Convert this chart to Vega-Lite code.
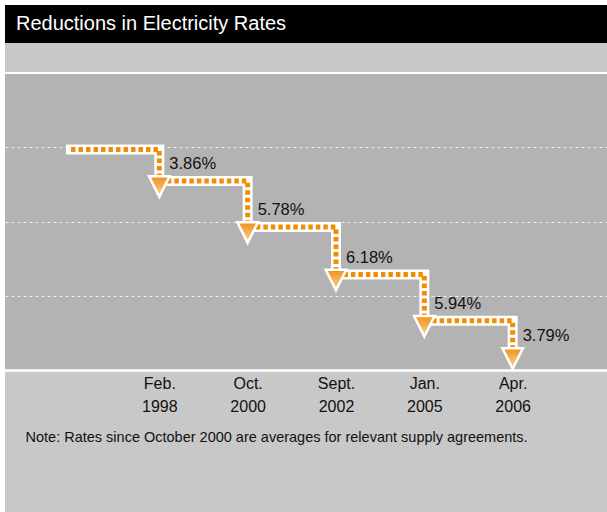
{
  "$schema": "https://vega.github.io/schema/vega-lite/v6.json",
  "background": "white",
  "padding": {"left": 4, "top": 5, "right": 0, "bottom": 0},
  "spacing": 0,
  "bounds": "flush",
  "config": {
    "view": {"stroke": null},
    "font": "Liberation Sans, Arial, sans-serif"
  },
  "vconcat": [
    {
      "width": 603,
      "height": 38,
      "view": {"fill": "black", "stroke": null},
      "data": {"values": [{"heading": "Reductions in Electricity Rates"}]},
      "mark": {
        "type": "text",
        "align": "left",
        "baseline": "middle",
        "dx": 11,
        "fontSize": 20,
        "color": "white"
      },
      "encoding": {
        "x": {"datum": 0, "type": "quantitative", "scale": {"domain": [0, 1]}, "axis": null},
        "text": {"field": "heading"}
      }
    },
    {
      "width": 603,
      "height": 469,
      "view": {"fill": "#b3b3b3", "stroke": null},
      "data": {
        "values": [
          {"period": "Start", "level": 29.7, "reduction": null},
          {"period": "Feb. 1998", "level": 25.45, "reduction": "3.86%"},
          {"period": "Oct. 2000", "level": 19.27, "reduction": "5.78%"},
          {"period": "Sept. 2002", "level": 12.9, "reduction": "6.18%"},
          {"period": "Jan. 2005", "level": 6.68, "reduction": "5.94%"},
          {"period": "Apr. 2006", "level": 2.36, "reduction": "3.79%"}
        ]
      },
      "encoding": {
        "x": {
          "field": "period",
          "type": "ordinal",
          "sort": null,
          "scale": {
            "type": "point",
            "domain": ["Start", "Feb. 1998", "Oct. 2000", "Sept. 2002", "Jan. 2005", "Apr. 2006"],
            "padding": 0.913,
            "align": 0.409
          },
          "axis": {
            "orient": "bottom",
            "offset": -141.5,
            "values": ["Feb. 1998", "Oct. 2000", "Sept. 2002", "Jan. 2005", "Apr. 2006"],
            "labelExpr": "split(datum.value, ' ')",
            "labelAngle": 0,
            "labelAlign": "center",
            "labelBaseline": "top",
            "labelPadding": 5,
            "labelLineHeight": 23,
            "labelFontSize": 16,
            "labelColor": "#111111",
            "labelOverlap": false,
            "labelFlush": false,
            "ticks": false,
            "domain": false,
            "grid": false,
            "zindex": 2,
            "title": "Note: Rates since October 2000 are averages for relevant supply agreements.",
            "titleX": 20,
            "titleY": 66.5,
            "titleAlign": "left",
            "titleAnchor": "start",
            "titleBaseline": "middle",
            "titleFontSize": 14.5,
            "titleFontWeight": "normal",
            "titleColor": "#111111"
          }
        },
        "y": {
          "field": "level",
          "type": "quantitative",
          "scale": {"domain": [-19, 44], "nice": false, "zero": false},
          "axis": {
            "values": [10, 20, 30],
            "grid": true,
            "gridColor": "#ececec",
            "gridDash": [3, 3],
            "gridWidth": 1,
            "labels": false,
            "ticks": false,
            "domain": false,
            "title": null
          }
        }
      },
      "layer": [
        {
          "mark": {"type": "rect", "color": "#c8c8c8"},
          "encoding": {
            "x": null,
            "y": {"datum": 40, "type": "quantitative"},
            "y2": {"datum": 44}
          }
        },
        {
          "mark": {"type": "rect", "color": "#c8c8c8"},
          "encoding": {
            "x": null,
            "y": {"datum": -19, "type": "quantitative"},
            "y2": {"datum": 0}
          }
        },
        {
          "mark": {"type": "rule", "color": "white", "strokeWidth": 1.5},
          "encoding": {"x": null, "y": {"datum": 40, "type": "quantitative"}}
        },
        {
          "mark": {"type": "rule", "color": "white", "strokeWidth": 1.5},
          "encoding": {"x": null, "y": {"datum": 0, "type": "quantitative"}}
        },
        {
          "mark": {
            "type": "line",
            "interpolate": "step-after",
            "color": "white",
            "strokeWidth": 10,
            "strokeCap": "square",
            "strokeJoin": "miter"
          }
        },
        {
          "mark": {
            "type": "line",
            "interpolate": "step-after",
            "color": "#f28c00",
            "strokeWidth": 5,
            "strokeDash": [4.5, 3],
            "strokeCap": "butt",
            "strokeJoin": "miter"
          }
        },
        {
          "transform": [{"filter": "datum.reduction != null"}],
          "mark": {
            "type": "point",
            "shape": "M-1,-1L1,-1L0,1Z",
            "size": 420,
            "filled": true,
            "opacity": 1,
            "fill": {
              "gradient": "linear",
              "x1": 0, "y1": 0, "x2": 0, "y2": 1,
              "stops": [
                {"offset": 0, "color": "#f0901c"},
                {"offset": 1, "color": "#fcd690"}
              ]
            },
            "stroke": "white",
            "strokeWidth": 2.5,
            "strokeJoin": "miter",
            "yOffset": 5.5
          }
        },
        {
          "transform": [{"filter": "datum.reduction != null"}],
          "mark": {
            "type": "text",
            "align": "left",
            "baseline": "middle",
            "dx": 10,
            "dy": -17,
            "fontSize": 16.5,
            "color": "#111111"
          },
          "encoding": {"text": {"field": "reduction"}}
        }
      ]
    }
  ]
}
